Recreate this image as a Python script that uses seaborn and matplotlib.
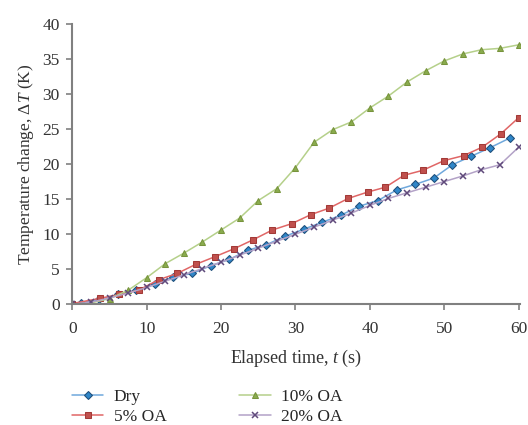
import matplotlib
matplotlib.use("Agg")
import matplotlib.pyplot as plt
import seaborn as sns
import pandas as pd

# ---- data ----
t_dry = [0, 1.1, 3.6, 6.1, 8.6, 11.1, 13.6, 16.1, 18.6, 21.1, 23.6, 26.1, 28.6, 31.1,
         33.6, 36.1, 38.6, 41.1, 43.6, 46.1, 48.6, 51.1, 53.6, 56.1, 58.8]
v_dry = [0, 0.2, 0.7, 1.4, 2.0, 2.9, 3.9, 4.4, 5.5, 6.4, 7.7, 8.5, 9.7, 10.7,
         11.7, 12.7, 14.0, 14.8, 16.3, 17.1, 18.0, 19.9, 21.1, 22.3, 23.7]

t_5oa = [0, 3.7, 6.3, 8.9, 11.6, 14.1, 16.6, 19.2, 21.7, 24.3, 26.9, 29.5, 32.1,
         34.5, 37.1, 39.7, 42.1, 44.6, 47.1, 50.0, 52.6, 55.1, 57.6, 60.0]
v_5oa = [0.1, 0.85, 1.4, 2.0, 3.5, 4.4, 5.7, 6.8, 7.9, 9.2, 10.6, 11.5, 12.8,
         13.7, 15.1, 16.0, 16.7, 18.4, 19.1, 20.5, 21.2, 22.4, 24.3, 26.6]

t_10oa = [0, 2.5, 5, 7.5, 10, 12.5, 15, 17.5, 20, 22.5, 25, 27.5, 30, 32.5, 35,
          37.5, 40, 42.5, 45, 47.5, 50, 52.5, 55, 57.5, 60]
v_10oa = [0, 0.2, 0.8, 2.0, 3.8, 5.8, 7.3, 8.9, 10.6, 12.3, 14.8, 16.5, 19.5, 23.1, 24.9,
          26.0, 28.0, 29.7, 31.7, 33.3, 34.7, 35.7, 36.3, 36.5, 37.0]

t_20oa = [0, 2.5, 5, 7.5, 10, 12.5, 15, 17.5, 20, 22.5, 25, 27.5, 30, 32.5, 35,
          37.5, 40, 42.5, 45, 47.5, 50, 52.5, 55, 57.5, 60]
v_20oa = [0, 0.3, 0.9, 1.6, 2.4, 3.3, 4.2, 5.1, 6.0, 7.0, 8.0, 9.0, 10.0, 11.0, 12.0,
          13.0, 14.1, 15.1, 15.9, 16.7, 17.5, 18.3, 19.2, 19.9, 22.4]

labels = ["Dry", "5% OA", "10% OA", "20% OA"]
x_ticks = [0, 10, 20, 30, 40, 50, 60]
y_ticks = [0, 5, 10, 15, 20, 25, 30, 35, 40]

sns.set_theme(style="white")
plt.rcParams["font.family"] = ["Liberation Serif", "DejaVu Serif"]
plt.rcParams["mathtext.fontset"] = "custom"
plt.rcParams["mathtext.rm"] = "Liberation Serif"
plt.rcParams["mathtext.it"] = "Liberation Serif:italic"

fig = plt.figure(figsize=(5.28, 4.25), dpi=100)
ax = fig.add_axes([0.137, 0.284, 0.848, 0.66])

styles = [
    dict(color="#6fa8dc", marker="D", markersize=4.0, markerfacecolor="#2f86c8", markeredgecolor="#1f4e79"),
    dict(color="#e06666", marker="s", markersize=5.0, markerfacecolor="#c0504d", markeredgecolor="#a33a37"),
    dict(color="#b5d08a", marker="^", markersize=5.0, markerfacecolor="#8aac4e", markeredgecolor="#77933c"),
    dict(color="#b3a2c7", marker="x", markersize=4.6, markerfacecolor="#604a7b", markeredgecolor="#604a7b",
         markeredgewidth=1.1),
]
series = [(t_dry, v_dry), (t_5oa, v_5oa), (t_10oa, v_10oa), (t_20oa, v_20oa)]

for (tx, vy), lab, st in zip(series, labels, styles):
    df = pd.DataFrame({"t": tx, "v": vy})
    sns.lineplot(data=df, x="t", y="v", ax=ax, label=lab, linewidth=1.1,
                 sort=False, estimator=None, **st)

ax.set_xlim(0, 60.2)
ax.set_ylim(0, 40)
ax.set_xticks(x_ticks)
ax.set_yticks(y_ticks)
ax.set_xlabel(r"Elapsed time, $t$ (s)", fontsize=13, color="#333333", labelpad=8)
ax.set_ylabel(r"Temperature change, $\Delta T$ (K)", fontsize=12.5, color="#333333", labelpad=5)

for s in ["top", "right"]:
    ax.spines[s].set_visible(False)
for s in ["left", "bottom"]:
    ax.spines[s].set_color("#808080")
    ax.spines[s].set_linewidth(1.5)
ax.tick_params(axis="both", which="major", direction="out", length=4, width=1.2,
               color="#808080", labelsize=12.5, labelcolor="#333333",
               bottom=True, left=True)
ax.tick_params(axis="x", pad=8)
ax.tick_params(axis="y", pad=5)

ax.get_legend().remove()
handles, labs = ax.get_legend_handles_labels()
fig.legend(handles, labs,
           loc="upper left", bbox_to_anchor=(0.107, 0.122), ncol=2, frameon=False,
           fontsize=12.5, handlelength=1.8, columnspacing=4.2, labelspacing=0.25,
           handletextpad=0.6)

fig.savefig("out.png", dpi=100, facecolor="white")
